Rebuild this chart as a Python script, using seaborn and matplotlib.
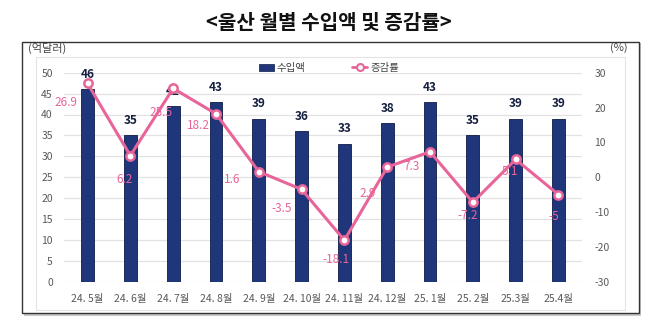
import numpy as np
import pandas as pd
import matplotlib
matplotlib.use("Agg")
import matplotlib.pyplot as plt
from matplotlib.patches import Rectangle
from matplotlib.lines import Line2D
import seaborn as sns

months = ["24. 5월", "24. 6월", "24. 7월", "24. 8월", "24. 9월", "24. 10월",
          "24. 11월", "24. 12월", "25. 1월", "25. 2월", "25.3월", "25.4월"]
imports = [46, 35, 42, 43, 39, 36, 33, 38, 43, 35, 39, 39]
growth = [26.9, 6.2, 25.5, 18.2, 1.6, -3.5, -18.1, 2.9, 7.3, -7.2, 5.1, -5]

# label placement for the growth-rate labels (pixel offsets from each point)
rate_offsets = [(-22, -19), (-6, -24), (-12, -24), (-18, -12), (-27, -8), (-20, -19),
                (-8, -19), (-20, -26), (-18, -15), (-5, -13), (-6, -12), (-5, -22)]

sns.set_theme(style="white")
plt.rcParams["font.family"] = ["Noto Sans CJK KR", "DejaVu Sans"]
plt.rcParams["axes.unicode_minus"] = False

NAVY = "#1f367a"
PINK = "#e8659a"
TICK = "#595959"

df = pd.DataFrame({"month": months, "imports": imports, "growth": growth})
df["pos"] = np.arange(len(df))

fig = plt.figure(figsize=(6.58, 3.23), dpi=100)
W, H = 658, 323

# outer frame with a soft shadow
fig.patches.append(Rectangle((24 / W, 1 - 316 / H), 617 / W, 273 / H, transform=fig.transFigure,
                             facecolor="#c8c8c8", edgecolor="none", zorder=-5))
fig.patches.append(Rectangle((22 / W, 1 - 313 / H), 617 / W, 271 / H, transform=fig.transFigure,
                             facecolor="white", edgecolor="#333333", linewidth=1.0, zorder=-4))
# inner plot frame
fig.patches.append(Rectangle((36 / W, 1 - 310 / H), 589 / W, 253 / H, transform=fig.transFigure,
                             facecolor="white", edgecolor="#e3e3e3", linewidth=0.8, zorder=-3))

fig.text(0.5, 1 - 22 / H, "<울산 월별 수입액 및 증감률>", ha="center", va="center",
         fontsize=14.5, fontweight="bold", color="#111111")
fig.text(28 / W, 1 - 48 / H, "(억달러)", ha="left", va="center", fontsize=8, color="#444444")
fig.text(628 / W, 1 - 48 / H, "(%)", ha="right", va="center", fontsize=8, color="#444444")

left, right = 64 / W, 582 / W
bottom, top = 1 - 281.7 / H, 1 - 72.7 / H
ax = fig.add_axes([left, bottom, right - left, top - bottom])
ax.set_facecolor("none")

sns.barplot(data=df, x="pos", y="imports", ax=ax, color=NAVY, width=0.3,
            edgecolor="#0d1b45", linewidth=0.6, saturation=1, native_scale=False)
ax.set_xlim(-0.55, len(df) - 0.45)
ax.set_ylim(0, 50)
ax.set_yticks(np.arange(0, 51, 5))
ax.set_xticks(df["pos"])
ax.set_xticklabels(months)
ax.set_xlabel("")
ax.set_ylabel("")
ax.yaxis.grid(True, color="#e2e2e2", linewidth=0.9)
ax.set_axisbelow(True)
for s in ax.spines.values():
    s.set_visible(False)
ax.tick_params(axis="both", length=0, labelsize=7.5, colors=TICK)
ax.tick_params(axis="x", pad=9)
ax.tick_params(axis="y", pad=8)

for p, v in zip(df["pos"], df["imports"]):
    ax.annotate(f"{v}", (p, v), xytext=(0, 6), textcoords="offset points",
                ha="center", va="bottom", fontsize=8.5, fontweight="bold", color="#151f3f")

ax2 = ax.twinx()
sns.lineplot(data=df, x="pos", y="growth", ax=ax2, color=PINK, linewidth=2.2,
             marker="o", markersize=6, markerfacecolor="white",
             markeredgecolor=PINK, markeredgewidth=1.8, zorder=5)
ax2.set_ylim(-30, 30)
ax2.set_yticks(np.arange(-30, 31, 10))
ax2.set_ylabel("")
ax2.set_xlabel("")
for s in ax2.spines.values():
    s.set_visible(False)
ax2.tick_params(axis="y", length=0, labelsize=7.5, colors=TICK, pad=9)

for p, v, (dx, dy) in zip(df["pos"], df["growth"], rate_offsets):
    ax2.annotate(f"{v:g}", (p, v), xytext=(dx * 0.72, dy * 0.72), textcoords="offset points",
                 ha="center", va="center", fontsize=8.5, color=PINK, zorder=6)

handles = [Rectangle((0, 0), 1, 1, facecolor=NAVY, edgecolor="#0d1b45", linewidth=0.5),
           Line2D([0], [0], color=PINK, linewidth=2, marker="o", markersize=5,
                  markerfacecolor="white", markeredgecolor=PINK, markeredgewidth=1.5)]
fig.legend(handles, ["수입액", "증감률"], loc="center", bbox_to_anchor=(0.5, 1 - 68 / H),
           ncol=2, frameon=False, fontsize=7.5, handlelength=1.4, handleheight=0.7,
           columnspacing=4.5, handletextpad=0.3, labelcolor="#444444")

fig.savefig("out.png", dpi=100)
